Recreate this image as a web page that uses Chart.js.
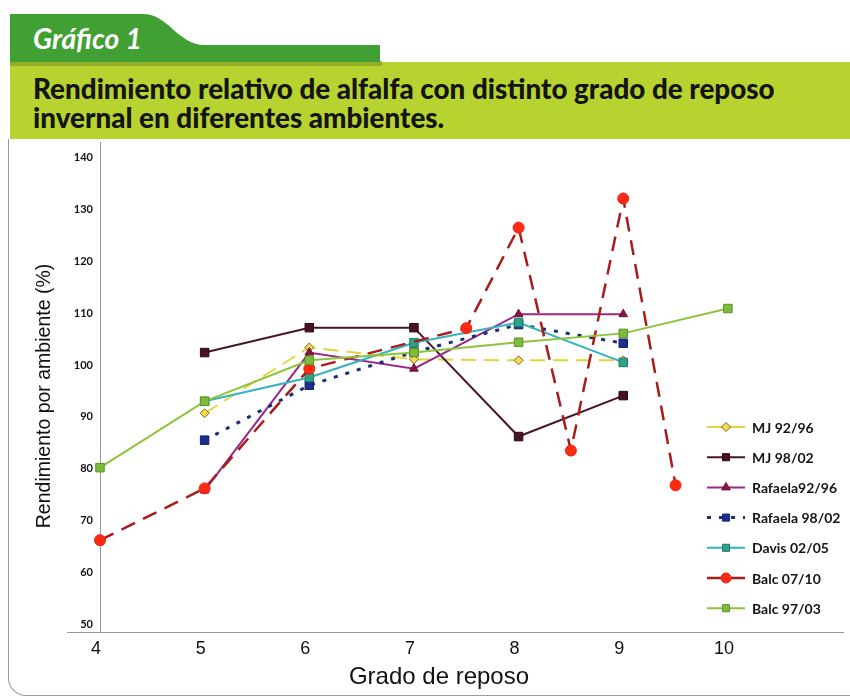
<!DOCTYPE html>
<html>
<head>
<meta charset="utf-8">
<script src="https://cdn.jsdelivr.net/npm/chart.js@4"></script>
<style>
html,body{margin:0;padding:0;background:#fff;width:850px;height:699px;overflow:hidden;position:relative}
#band{position:absolute;left:10px;top:62px;width:840px;height:77px;background:#b6d32f}
#tab{position:absolute;left:0;top:0}
#tabtext{position:absolute;left:33px;top:38px;color:#fff;font-family:Lato,sans-serif;font-style:italic;font-weight:700;font-size:26px;line-height:1;white-space:nowrap;transform:translateY(-50%)}
.tl{position:absolute;left:33px;font-family:Lato,sans-serif;font-weight:900;font-size:26px;line-height:1;color:#141414;white-space:nowrap;transform:translateY(-50%)}
#t1{top:89px}
#t2{top:118px}
#frame{position:absolute;left:8px;top:139px;width:900px;height:556px;border-left:1.5px solid #9a9a9a;border-bottom:1.5px solid #9a9a9a;border-bottom-left-radius:18px}
#wrap{position:absolute;left:0;top:129px;width:850px;height:570px}
#xtitle{position:absolute;left:289px;width:300px;top:662px;text-align:center;font:24px 'Liberation Sans',Arial,sans-serif;line-height:28px;color:#111}
</style>
</head>
<body>
<div id="band"></div>
<svg id="tab" width="850" height="70">
  <rect x="10" y="61" width="372" height="5" fill="#6f8a22" opacity="0.5"/>
  <path d="M10,14 L143,14 C168,14 178,45 205,45 L380,45 L380,62 L10,62 Z" fill="#41a033"/>
</svg>
<div id="tabtext"><span id="tabspan">Gráfico 1</span></div>
<div class="tl" id="t1"><span id="t1span">Rendimiento relativo de alfalfa con distinto grado de reposo</span></div>
<div class="tl" id="t2"><span>invernal en diferentes ambientes.</span></div>
<div id="frame"></div>
<div id="wrap"><canvas id="c" width="850" height="570"></canvas></div>
<div id="xtitle">Grado de reposo</div>
<script>
// ---- data ----
const grados = [4, 5, 6, 7, 8, 9, 10];
const mj9296 = [null, 90.7, 103.4, 101.1, 100.9, 100.9, null];
const mj9802 = [null, 102.4, 107.2, 107.2, 86.2, 94.1, null];
const raf9296 = [null, 75.8, 102.4, 99.3, 109.8, 109.8, null];
const raf9802 = [null, 85.5, 96.1, 102.5, 107.8, 104.2, null];
const davis0205 = [null, 93.0, 97.6, 104.3, 108.2, 100.5, null];
const balc0710X = [4, 5, 6, 7.5, 8, 8.5, 9, 9.5];
const balc0710 = [66.2, 76.2, 99.3, 107.1, 126.5, 83.5, 132.1, 76.8];
const balc9703 = [80.2, 93.0, 100.9, 102.4, 104.4, 106.1, 110.9];
const yTickValues = [50, 60, 70, 80, 90, 100, 110, 120, 130, 140];
const xTickValues = [4, 5, 6, 7, 8, 9, 10];
const seriesNames = ['MJ 92/96', 'MJ 98/02', 'Rafaela92/96', 'Rafaela 98/02', 'Davis 02/05', 'Balc 07/10', 'Balc 97/03'];
const yTitle = 'Rendimiento por ambiente (%)';

// fit header texts to the reference widths
function fitWidth(spanId, elId, target) {
  const sp = document.getElementById(spanId);
  const w = sp.getBoundingClientRect().width;
  if (w > 0) {
    const els = elId.map(id => document.getElementById(id));
    const fs = parseFloat(getComputedStyle(els[0]).fontSize) * target / w;
    els.forEach(e => e.style.fontSize = fs + 'px');
  }
}
fitWidth('t1span', ['t1', 't2'], 742);
fitWidth('tabspan', ['tabtext'], 109);

function pts(xs, ys) {
  return xs.map((x, i) => ({x: x, y: ys[i]})).filter(p => p.y !== null);
}

const styles = [
  {line:'#e4d43a', dash:[15,8], w:2, ps:'rectRot', r:4.5, bg:'#f3dc55', bc:'#7c6a1a'},
  {line:'#4a1228', dash:[], w:2, ps:'rect', r:6, bg:'#4a1228', bc:'#2a0612'},
  {line:'#98288a', dash:[], w:2, ps:'triangle', r:5, bg:'#8a1540', bc:'#6a1030'},
  {line:'#1a2d7a', dash:[4,8], w:3, ps:'rect', r:6, bg:'#1d2f8c', bc:'#14206a'},
  {line:'#35b2c0', dash:[], w:2, ps:'rect', r:6, bg:'#2fa386', bc:'#1d7a64'},
  {line:'#a81c1c', dash:[15,9], w:2.5, ps:'circle', r:5.5, bg:'#ff2a12', bc:'#e8200e'},
  {line:'#8cc43a', dash:[], w:2, ps:'rect', r:6, bg:'#7dbb3c', bc:'#5a9228'}
];
const seriesData = [
  pts(grados, mj9296), pts(grados, mj9802), pts(grados, raf9296), pts(grados, raf9802),
  pts(grados, davis0205), pts(balc0710X, balc0710), pts(grados, balc9703)
];

const datasets = seriesNames.map((name, i) => ({
  label: name,
  data: seriesData[i],
  borderColor: styles[i].line,
  borderWidth: styles[i].w,
  borderDash: styles[i].dash,
  pointStyle: styles[i].ps,
  pointRadius: styles[i].r,
  pointBackgroundColor: styles[i].bg,
  pointBorderColor: styles[i].bc,
  pointBorderWidth: 1,
  fill: false,
  tension: 0,
  clip: false,
  order: 6 - i
}));

const legendPlugin = {
  id: 'customLegend',
  afterDraw(chart) {
    const ctx = chart.ctx;
    chart.data.datasets.forEach((ds, i) => {
      const y = 298 + i * 30.2;
      ctx.save();
      ctx.strokeStyle = ds.borderColor;
      ctx.lineWidth = ds.borderWidth;
      ctx.setLineDash(ds.borderDash || []);
      ctx.beginPath(); ctx.moveTo(707, y); ctx.lineTo(745, y); ctx.stroke();
      ctx.setLineDash([]);
      ctx.fillStyle = ds.pointBackgroundColor;
      ctx.strokeStyle = ds.pointBorderColor;
      ctx.lineWidth = 1;
      Chart.helpers.drawPoint(ctx, {pointStyle: ds.pointStyle, radius: Math.min(ds.pointRadius, 5), rotation: 0, borderWidth: 1}, 726, y);
      ctx.fillStyle = '#151515';
      ctx.font = 'bold 14px Lato, sans-serif';
      ctx.textBaseline = 'middle';
      ctx.textAlign = 'left';
      ctx.fillText(ds.label, 752, y + 1);
      ctx.restore();
    });
    // x-axis line extension to the left of the y axis
    const xa = chart.scales.x;
    ctx.save();
    ctx.strokeStyle = '#8c9aa6';
    ctx.lineWidth = 1;
    ctx.beginPath(); ctx.moveTo(67, xa.top + 0.5); ctx.lineTo(xa.left, xa.top + 0.5); ctx.stroke();
    // y-axis title
    ctx.translate(45, 267);
    ctx.rotate(-Math.PI / 2);
    ctx.fillStyle = '#111';
    ctx.font = "19.5px 'Liberation Sans', Arial, sans-serif";
    ctx.textAlign = 'center';
    ctx.textBaseline = 'middle';
    ctx.fillText(yTitle, 0, 0);
    ctx.restore();
  }
};

new Chart(document.getElementById('c'), {
  type: 'line',
  data: {datasets: datasets},
  plugins: [legendPlugin],
  options: {
    responsive: false,
    animation: false,
    events: [],
    layout: {padding: {top: 3, right: 0, bottom: 0, left: 0}},
    plugins: {legend: {display: false}, tooltip: {enabled: false}, title: {display: false}},
    scales: {
      x: {
        type: 'linear',
        min: 4,
        max: 11.1,
        afterFit(s) { s.height = 67; },
        afterBuildTicks(s) { s.ticks = xTickValues.map(v => ({value: v})); },
        ticks: {color: '#111', font: {family: "'Liberation Sans', Arial, sans-serif", size: 18}, padding: 6, labelOffset: -4, autoSkip: false, maxRotation: 0},
        grid: {drawOnChartArea: false, drawTicks: false},
        border: {color: '#8c9aa6', width: 1}
      },
      y: {
        type: 'linear',
        min: 48.5,
        max: 142.9,
        afterFit(s) { s.width = 100; },
        afterBuildTicks(s) { s.ticks = yTickValues.map(v => ({value: v})); },
        ticks: {color: '#111', font: {family: 'Lato, sans-serif', size: 11, weight: 'bold'}, padding: 7, labelOffset: 0},
        grid: {drawOnChartArea: false, drawTicks: false},
        border: {color: '#8c9aa6', width: 1},
        title: {display: false}
      }
    }
  }
});
</script>
</body>
</html>
